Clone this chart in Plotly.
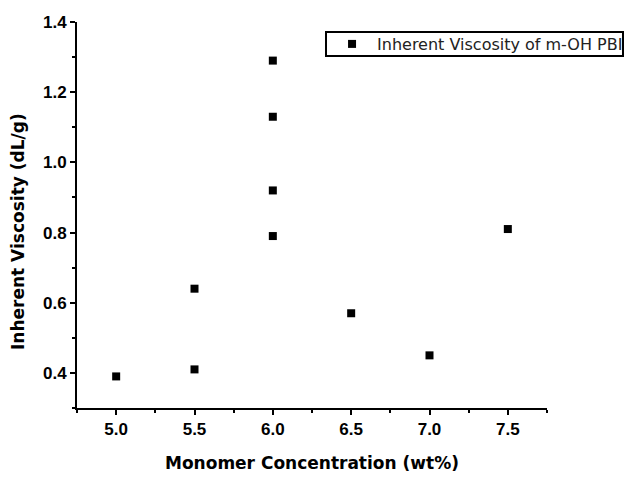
import plotly.graph_objects as go

concentration = [5.0, 5.5, 5.5, 6.0, 6.0, 6.0, 6.0, 6.5, 7.0, 7.5]
viscosity = [0.39, 0.41, 0.64, 0.79, 0.92, 1.13, 1.29, 0.57, 0.45, 0.81]
x_ticks = [5.0, 5.5, 6.0, 6.5, 7.0, 7.5]
y_ticks = [0.4, 0.6, 0.8, 1.0, 1.2, 1.4]

ARIAL = "Arial, 'Liberation Sans', sans-serif"
WIDE = "'DejaVu Sans', sans-serif"

fig = go.Figure()
fig.add_trace(go.Scatter(
    x=concentration, y=viscosity, mode="markers",
    name="Inherent Viscosity of m-OH PBI",
    marker=dict(symbol="square", size=8, color="black"),
))

fig.update_layout(
    width=624, height=486,
    margin=dict(l=77, r=77, t=22, b=78, autoexpand=False),
    paper_bgcolor="white", plot_bgcolor="white",
    font=dict(family=ARIAL, color="black"),
    showlegend=True,
    legend=dict(
        x=0.532, y=0.943, xanchor="left", yanchor="middle",
        borderwidth=0, bgcolor="rgba(0,0,0,0)",
        font=dict(family=WIDE, size=16, color="#222"),
        itemwidth=40,
    ),
    shapes=[
        dict(type="rect", xref="paper", yref="paper",
             x0=0.5298, x1=1.1617, y0=0.9119, y1=0.9741,
             line=dict(color="black", width=2), fillcolor="rgba(0,0,0,0)", layer="below"),
    ],
    xaxis=dict(
        range=[4.75, 7.75], tickvals=x_ticks,
        ticktext=[f"{v:.1f}" for v in x_ticks],
        showgrid=False, zeroline=False,
        showline=True, linecolor="black", linewidth=2,
        ticks="outside", ticklen=5, tickwidth=1.5, tickcolor="black",
        minor=dict(dtick=0.25, ticks="outside", ticklen=3, tickwidth=1.5, tickcolor="black"),
        tickfont=dict(family=ARIAL, size=17, color="black", weight="bold"),
    ),
    yaxis=dict(
        range=[0.3, 1.4], tickvals=y_ticks,
        ticktext=[f"{v:.1f}" for v in y_ticks],
        showgrid=False, zeroline=False,
        showline=True, linecolor="black", linewidth=2,
        ticks="outside", ticklen=5, tickwidth=1.5, tickcolor="black",
        minor=dict(dtick=0.1, ticks="outside", ticklen=3, tickwidth=1.5, tickcolor="black"),
        tickfont=dict(family=ARIAL, size=17, color="black", weight="bold"),
    ),
    annotations=[
        dict(text="Monomer Concentration (wt%)", xref="paper", yref="paper",
             x=0.5, y=-0.1425, xanchor="center", yanchor="middle", showarrow=False,
             font=dict(family=WIDE, size=17, color="black", weight="bold")),
        dict(text="Inherent Viscosity (dL/g)", xref="paper", yref="paper",
             x=-0.1255, y=0.456, xanchor="center", yanchor="middle", showarrow=False,
             textangle=-90,
             font=dict(family=WIDE, size=17, color="black", weight="bold")),
    ],
)

fig.write_html("out.html")
